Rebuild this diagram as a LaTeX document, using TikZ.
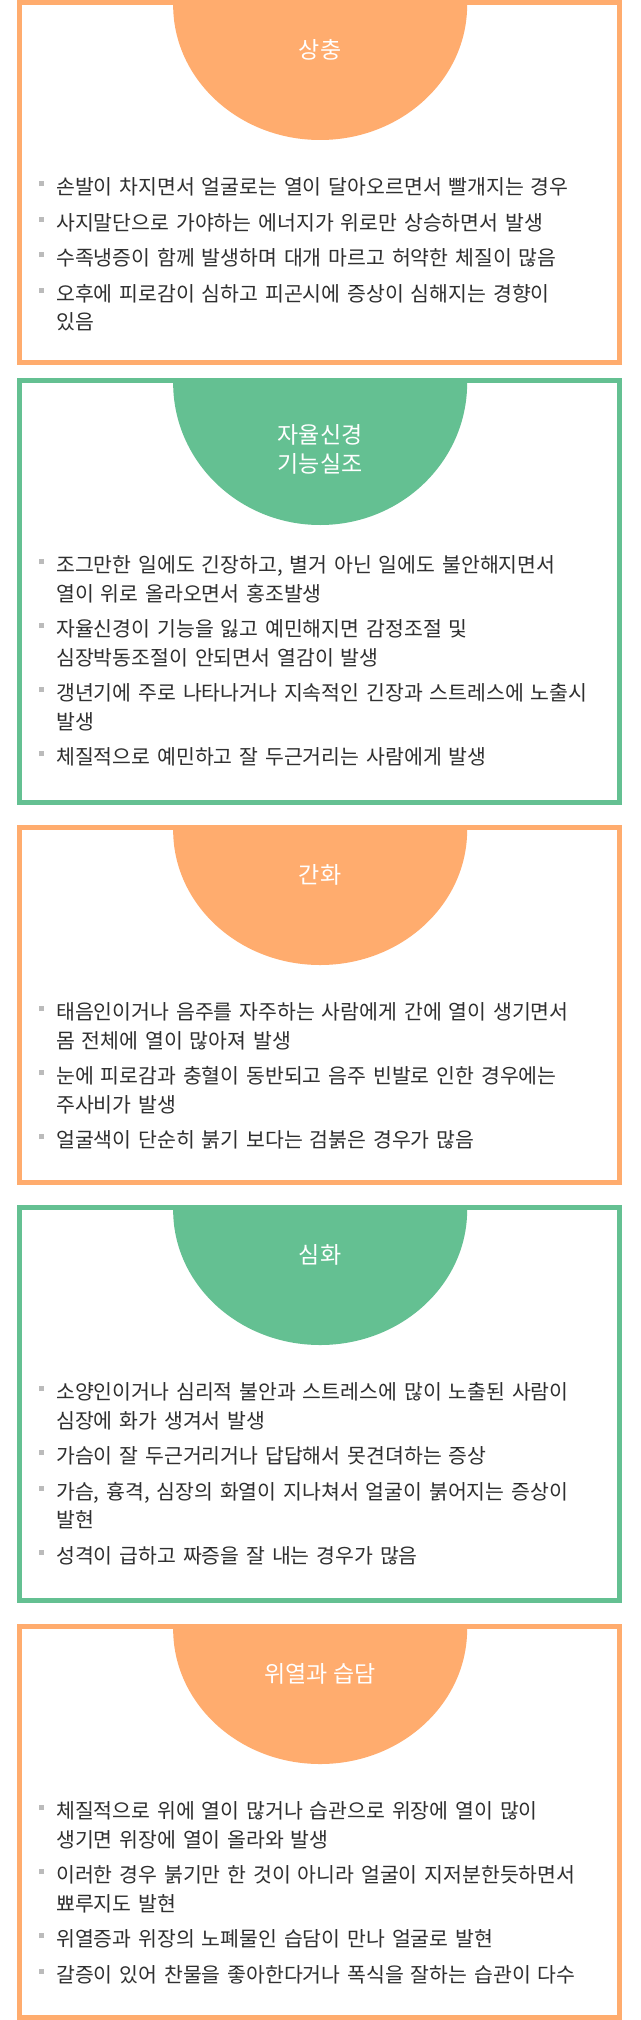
\documentclass[tikz,border=0pt]{standalone}
\usepackage{fontspec}
\newfontfamily\kr{Noto Sans CJK KR}
\usepackage{tikz}
\usetikzlibrary{positioning}
\definecolor{orangec}{HTML}{FFAC6E}
\definecolor{greenc}{HTML}{64C092}
\definecolor{textc}{HTML}{2F2F2F}
\definecolor{bulletc}{HTML}{BBBBBB}
\newcommand{\itm}{\par\setlength{\parskip}{7pt}\hangindent=17pt\hangafter=1\noindent\makebox[17pt][l]{\textcolor{bulletc}{\rule[8.5pt]{5pt}{5pt}}}\strut}

\begin{document}
\begin{tikzpicture}[x=1pt, y=1pt,
    panel/.style={draw=#1, line width=5pt, fill=white, minimum width=600.3pt, inner sep=0pt},
    boxtitle/.style={text=white, align=center, inner sep=0pt, font=\kr\fontsize{23}{29}\selectfont},
    itemlist/.style={anchor=north west, text width=580pt, align=left, inner sep=0pt, text=textc, font=\kr\fontsize{20.5}{28.5}\selectfont}]
    \useasboundingbox (0,0) rectangle (640,-2020);
    \fill[white] (0,0) rectangle (640,-2020);

    % panels
    \node [panel=orangec, minimum height=360pt] (b1) at (319.15,-182.5) {};
    \node [panel=greenc, minimum height=422pt, below=13pt of b1] (b2) {};
    \node [panel=orangec, minimum height=355pt, below=20pt of b2] (b3) {};
    \node [panel=greenc, minimum height=393pt, below=20pt of b3] (b4) {};
    \node [panel=orangec, minimum height=390.5pt, below=21pt of b4] (b5) {};

    % half ellipses
    \fill [orangec] ([xshift=-146pt, yshift=-5pt]b1.north) arc [start angle=180, end angle=360, x radius=147pt, y radius=135pt] -- cycle;
    \fill [greenc] ([xshift=-146pt, yshift=-5pt]b2.north) arc [start angle=180, end angle=360, x radius=147pt, y radius=142pt] -- cycle;
    \fill [orangec] ([xshift=-146pt, yshift=-5pt]b3.north) arc [start angle=180, end angle=360, x radius=147pt, y radius=135pt] -- cycle;
    \fill [greenc] ([xshift=-146pt, yshift=-5pt]b4.north) arc [start angle=180, end angle=360, x radius=147pt, y radius=135pt] -- cycle;
    \fill [orangec] ([xshift=-146pt, yshift=-5pt]b5.north) arc [start angle=180, end angle=360, x radius=147pt, y radius=135pt] -- cycle;

    % titles
    \node [boxtitle] (t1) at ([xshift=1pt, yshift=-50pt]b1.north) {상충};
    \node [boxtitle] (t2) at ([xshift=1pt, yshift=-71pt]b2.north) {자율신경\\기능실조};
    \node [boxtitle] (t3) at ([xshift=1pt, yshift=-50pt]b3.north) {간화};
    \node [boxtitle] (t4) at ([xshift=1pt, yshift=-50pt]b4.north) {심화};
    \node [boxtitle] (t5) at ([xshift=1pt, yshift=-50pt]b5.north) {위열과 습담};

    % lists
    \node [itemlist] (l1) at ([xshift=22.5pt, yshift=-159pt]b1.north west) {%
        \itm 손발이 차지면서 얼굴로는 열이 달아오르면서 빨개지는 경우
        \itm 사지말단으로 가야하는 에너지가 위로만 상승하면서 발생
        \itm 수족냉증이 함께 발생하며 대개 마르고 허약한 체질이 많음
        \itm 오후에 피로감이 심하고 피곤시에 증상이 심해지는 경향이\newline 있음\par};
    \node [itemlist] (l2) at ([xshift=22.5pt, yshift=-159pt]b2.north west) {%
        \itm 조그만한 일에도 긴장하고, 별거 아닌 일에도 불안해지면서\newline 열이 위로 올라오면서 홍조발생
        \itm 자율신경이 기능을 잃고 예민해지면 감정조절 및\newline 심장박동조절이 안되면서 열감이 발생
        \itm 갱년기에 주로 나타나거나 지속적인 긴장과 스트레스에 노출시\newline 발생
        \itm 체질적으로 예민하고 잘 두근거리는 사람에게 발생\par};
    \node [itemlist] (l3) at ([xshift=22.5pt, yshift=-159pt]b3.north west) {%
        \itm 태음인이거나 음주를 자주하는 사람에게 간에 열이 생기면서\newline 몸 전체에 열이 많아져 발생
        \itm 눈에 피로감과 충혈이 동반되고 음주 빈발로 인한 경우에는\newline 주사비가 발생
        \itm 얼굴색이 단순히 붉기 보다는 검붉은 경우가 많음\par};
    \node [itemlist] (l4) at ([xshift=22.5pt, yshift=-159pt]b4.north west) {%
        \itm 소양인이거나 심리적 불안과 스트레스에 많이 노출된 사람이\newline 심장에 화가 생겨서 발생
        \itm 가슴이 잘 두근거리거나 답답해서 못견뎌하는 증상
        \itm 가슴, 흉격, 심장의 화열이 지나쳐서 얼굴이 붉어지는 증상이\newline 발현
        \itm 성격이 급하고 짜증을 잘 내는 경우가 많음\par};
    \node [itemlist] (l5) at ([xshift=22.5pt, yshift=-159pt]b5.north west) {%
        \itm 체질적으로 위에 열이 많거나 습관으로 위장에 열이 많이\newline 생기면 위장에 열이 올라와 발생
        \itm 이러한 경우 붉기만 한 것이 아니라 얼굴이 지저분한듯하면서\newline 뾰루지도 발현
        \itm 위열증과 위장의 노폐물인 습담이 만나 얼굴로 발현
        \itm 갈증이 있어 찬물을 좋아한다거나 폭식을 잘하는 습관이 다수\par};
\end{tikzpicture}
\end{document}
